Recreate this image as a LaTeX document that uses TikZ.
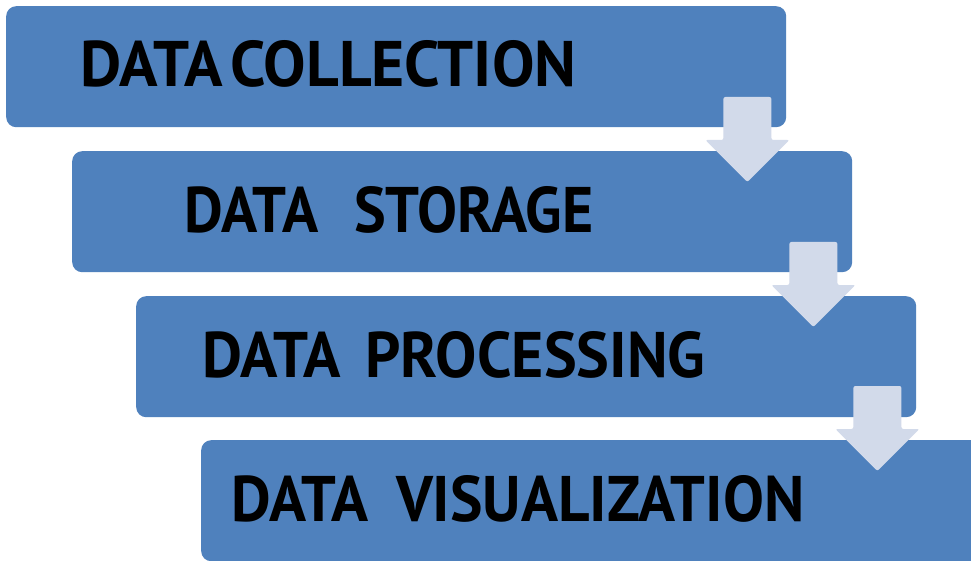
\documentclass[tikz,border=0pt]{standalone}
\usepackage{fontspec}
\setmainfont{PT Sans}
\usetikzlibrary{calc}

\definecolor{boxblue}{RGB}{79,129,189}
\definecolor{arrowfill}{RGB}{210,218,234}
\newcommand{\steptext}[2]{\resizebox{#1pt}{46pt}{\bfseries #2}}

\tikzset{
  stepbox/.style={draw=none,fill=boxblue,rounded corners=10pt,
    minimum width=780pt,minimum height=121pt,anchor=north west,inner sep=0pt},
  steplabel/.style={anchor=west,inner sep=0pt,text=black},
  flow arrow/.pic={
    \fill[arrowfill,rounded corners=2pt] (0,0) -- (48,0) -- (48,43) -- (66,43)
      -- (24,85) -- (-18,43) -- (0,43) -- cycle;
  }
}

\begin{document}
\begin{tikzpicture}[x=1pt,y=-1pt]
    \clip (0,0) rectangle (971,561);
    \fill[white] (0,0) rectangle (971,561);
    % the four steps
    \node (b1) [stepbox] at (6,6) {};
    \node (b2) [stepbox] at (72,151) {};
    \node (b3) [stepbox] at (136,296) {};
    \node (b4) [stepbox] at (201,440) {};
    \node (t1) [steplabel] at (80,64) {\steptext{496}{DATA\hspace{0.12em}COLLECTION}};
    \node (t2) [steplabel] at (184,210) {\steptext{409}{DATA\hspace{0.6em}STORAGE}};
    \node (t3) [steplabel] at (202,355) {\steptext{503}{DATA\hspace{0.4em}PROCESSING}};
    \node (t4) [steplabel] at (231,499) {\steptext{573}{DATA\hspace{0.45em}VISUALIZATION}};
    % arrows between the steps
    \path ($(b1.north east)+(-63,91)$) pic {flow arrow};
    \path ($(b2.north east)+(-63,91)$) pic {flow arrow};
    \path ($(b3.north east)+(-63,90)$) pic {flow arrow};
\end{tikzpicture}
\end{document}
